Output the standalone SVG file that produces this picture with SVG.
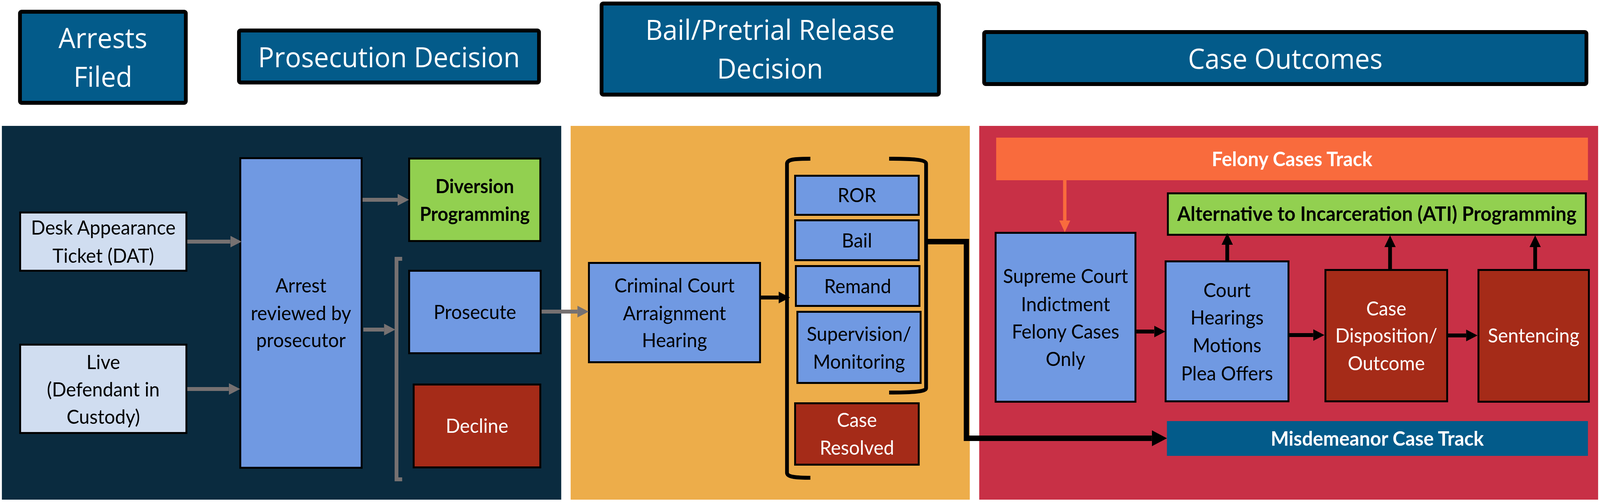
<svg xmlns="http://www.w3.org/2000/svg" width="4245" height="1284" viewBox="0 0 4245 1284" preserveAspectRatio="none">
<style>
:root{width:100vw;height:100vh}
.hdr{fill:#035B8A;stroke:#000;stroke-width:10}
.ht{font-family:"Open Sans","DejaVu Sans",sans-serif;font-size:71px;fill:#fff;text-anchor:middle}
.box{stroke:#000;stroke-width:5}
.lb{fill:#D0DDF0}.bl{fill:#7099E2}.gr{fill:#92D050}.rd{fill:#A52B18}
.t{font-family:Lato,"Liberation Sans",sans-serif;font-size:50px;fill:#000;text-anchor:middle}
.w{fill:#fff}
.b{font-weight:bold;font-size:51px}
.bs{font-weight:bold;font-size:49px}
.ga{fill:none;stroke:#767171;stroke-width:10;marker-end:url(#hg)}
.ka{fill:none;stroke:#000;stroke-width:10;marker-end:url(#hk)}
</style>
<defs>
<marker id="hg" markerUnits="userSpaceOnUse" viewBox="0 0 30 30" markerWidth="30" markerHeight="30" refX="0" refY="15" orient="auto"><path d="M0,0L30,15L0,30z" fill="#767171"/></marker>
<marker id="hk" markerUnits="userSpaceOnUse" viewBox="0 0 30 30" markerWidth="30" markerHeight="30" refX="0" refY="15" orient="auto"><path d="M0,0L30,15L0,30z" fill="#000"/></marker>
<marker id="ho" markerUnits="userSpaceOnUse" viewBox="0 0 30 30" markerWidth="30" markerHeight="30" refX="0" refY="15" orient="auto"><path d="M0,0.5L30,15L0,29.5z" fill="#F96B3D"/></marker>
<marker id="hb" markerUnits="userSpaceOnUse" viewBox="0 0 40 41" markerWidth="40" markerHeight="41" refX="0" refY="20.5" orient="auto"><path d="M0,0L40,20.5L0,41z" fill="#000"/></marker>
</defs>
<rect width="4245" height="1284" fill="#fff"/>

<g id="headers">
<g id="h-arrests"><rect class="hdr" x="53" y="30" width="440" height="233" rx="4"/><text class="ht" x="273" y="123">Arrests</text><text class="ht" x="273" y="222">Filed</text></g>
<g id="h-prosecution"><rect class="hdr" x="634" y="78" width="796" height="133" rx="4"/><text class="ht" x="1032" y="172">Prosecution Decision</text></g>
<g id="h-bail"><rect class="hdr" x="1596" y="9" width="895" height="233" rx="4"/><text class="ht" x="2043" y="102">Bail/Pretrial Release</text><text class="ht" x="2043" y="201">Decision</text></g>
<g id="h-outcomes"><rect class="hdr" x="2611" y="82" width="1598" height="133" rx="4"/><text class="ht" x="3410" y="176">Case Outcomes</text></g>
</g>

<g id="panels">
<rect x="5" y="322" width="1484" height="956" fill="#0A2B3F"/>
<rect x="1514" y="322" width="1059" height="956" fill="#EDAD4A"/>
<rect x="2598" y="322" width="1642" height="956" fill="#C83046"/>
</g>

<g id="felony-track"><rect x="2643" y="352" width="1570" height="109" fill="#F96B3D"/><text class="t w b" x="3428" y="425">Felony Cases Track</text></g>
<g id="misdemeanor-track"><rect x="3096" y="1077" width="1117" height="89" fill="#035B8A"/><text class="t w b" x="3654" y="1140">Misdemeanor Case Track</text></g>

<g id="dat"><rect class="box lb" x="53.5" y="543.5" width="441" height="149"/><text class="t" x="274" y="600">Desk Appearance</text><text class="t" x="274" y="672">Ticket (DAT)</text></g>
<g id="live"><rect class="box lb" x="53.5" y="881.5" width="441" height="226"/><text class="t" x="274" y="944">Live</text><text class="t" x="274" y="1014">(Defendant in</text><text class="t" x="274" y="1084">Custody)</text></g>
<g id="arrest-reviewed"><rect class="box bl" x="637.5" y="404.5" width="322" height="792"/><text class="t" x="798.5" y="748">Arrest</text><text class="t" x="798.5" y="819">reviewed by</text><text class="t" x="798.5" y="888">prosecutor</text></g>
<g id="diversion"><rect class="box gr" x="1085.5" y="405.5" width="348" height="211"/><text class="t bs" x="1259.5" y="494">Diversion</text><text class="t bs" x="1259.5" y="565">Programming</text></g>
<g id="prosecute"><rect class="box bl" x="1085.5" y="692.5" width="349" height="211"/><text class="t" x="1260" y="816">Prosecute</text></g>
<g id="decline"><rect class="box rd" x="1097.5" y="983.5" width="336" height="212"/><text class="t w" x="1265.5" y="1107">Decline</text></g>

<g id="arraignment"><rect class="box bl" x="1562.5" y="672.5" width="454" height="254"/><text class="t" x="1789.5" y="748">Criminal Court</text><text class="t" x="1789.5" y="819">Arraignment</text><text class="t" x="1789.5" y="888">Hearing</text></g>
<g id="ror"><rect class="box bl" x="2109.5" y="449.5" width="328" height="100"/><text class="t" x="2273.5" y="517">ROR</text></g>
<g id="bail"><rect class="box bl" x="2109.5" y="563.5" width="328" height="102"/><text class="t" x="2273.5" y="633">Bail</text></g>
<g id="remand"><rect class="box bl" x="2111.5" y="680.5" width="328" height="102"/><text class="t" x="2275.5" y="750">Remand</text></g>
<g id="supervision"><rect class="box bl" x="2115.5" y="797.5" width="327" height="182"/><text class="t" x="2279" y="872">Supervision/</text><text class="t" x="2279" y="943">Monitoring</text></g>
<g id="case-resolved"><rect class="box rd" x="2109.5" y="1031.5" width="328" height="157"/><text class="t w" x="2273.5" y="1092">Case</text><text class="t w" x="2273.5" y="1163">Resolved</text></g>

<g id="ati"><rect class="box gr" x="3098.5" y="494.5" width="1109" height="106"/><text class="t b" x="3653" y="565">Alternative to Incarceration (ATI) Programming</text></g>
<g id="supreme"><rect class="box bl" x="2641.5" y="595.5" width="371" height="432"/><text class="t" x="2827" y="724">Supreme Court</text><text class="t" x="2827" y="796">Indictment</text><text class="t" x="2827" y="866">Felony Cases</text><text class="t" x="2827" y="936">Only</text></g>
<g id="court-hearings"><rect class="box bl" x="3092.5" y="668.5" width="326" height="358"/><text class="t" x="3255.5" y="760">Court</text><text class="t" x="3255.5" y="830">Hearings</text><text class="t" x="3255.5" y="901">Motions</text><text class="t" x="3255.5" y="973">Plea Offers</text></g>
<g id="disposition"><rect class="box rd" x="3516.5" y="690.5" width="323" height="336"/><text class="t w" x="3678" y="807">Case</text><text class="t w" x="3678" y="876">Disposition/</text><text class="t w" x="3678" y="947">Outcome</text></g>
<g id="sentencing"><rect class="box rd" x="3922.5" y="690.5" width="293" height="337"/><text class="t w" x="4069" y="876">Sentencing</text></g>

<g id="connectors">
<path class="ga" d="M497,618H611"/>
<path class="ga" d="M497,995H607"/>
<path class="ga" d="M962,511H1055"/>
<path class="ga" d="M964,843H1019"/>
<path class="ga" d="M1437,797H1532"/>
<path d="M1067,662H1052V1226H1067" fill="none" stroke="#767171" stroke-width="10"/>
<path class="ka" d="M2019,761H2066"/>
<path d="M2150,406C2110,406 2088,407 2088,419V1209C2088,1220 2110,1222 2150,1222" fill="none" stroke="#000" stroke-width="10"/>
<path d="M2359,406C2420,406 2457,408 2457,419V993C2457,1002 2420,1004 2359,1004" fill="none" stroke="#000" stroke-width="10"/>
<path d="M2457,618H2564V1121H3056" fill="none" stroke="#000" stroke-width="14" marker-end="url(#hb)"/>
<path d="M2825,461V564" fill="none" stroke="#F96B3D" stroke-width="9" marker-end="url(#ho)"/>
<path class="ka" d="M3015,848H3062"/>
<path class="ka" d="M3421,857H3484"/>
<path class="ka" d="M3842,858H3890"/>
<path class="ka" d="M3256,666V626"/>
<path class="ka" d="M3688,688V632"/>
<path class="ka" d="M4073,688V632"/>
</g>
</svg>
